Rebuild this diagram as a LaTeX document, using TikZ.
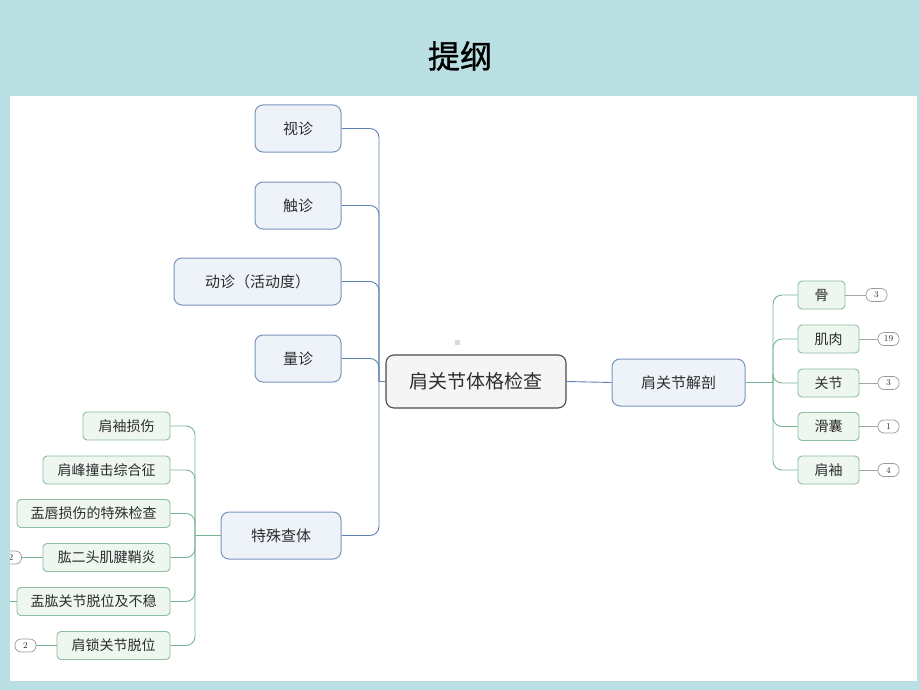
\documentclass[tikz,border=0pt]{standalone}
\usepackage{fontspec}
\newfontfamily\cjk{Noto Sans CJK SC}
\newfontfamily\cjkt[FakeBold=1.2]{Noto Sans CJK SC}
\definecolor{tealbg}{RGB}{185,223,226}
\definecolor{bfill}{RGB}{238,243,250}
\definecolor{bdraw}{RGB}{120,148,188}
\definecolor{bline}{RGB}{95,132,178}
\definecolor{gfill}{RGB}{238,246,240}
\definecolor{gdraw}{RGB}{140,190,160}
\definecolor{gline}{RGB}{120,180,145}
\definecolor{cfill}{RGB}{245,245,245}
\definecolor{cdraw}{RGB}{75,75,75}
\definecolor{txt}{RGB}{45,45,45}
\tikzset{
  bnode/.style={draw=bdraw, fill=bfill, line width=1pt, rounded corners=8pt, minimum height=47pt, inner sep=0pt, text=txt, font=\cjk\fontsize{15}{18}\selectfont},
  cnode/.style={draw=cdraw, fill=cfill, line width=1.1pt, rounded corners=8pt, minimum width=180pt, minimum height=53pt, inner sep=0pt, text=txt, font=\cjk\fontsize{19}{22}\selectfont},
  gnode/.style={draw=gdraw, fill=gfill, line width=0.9pt, rounded corners=4pt, minimum height=28pt, inner sep=0pt, text=txt, font=\cjk\fontsize{14}{17}\selectfont},
  badge/.style={draw=gray!80, fill=white, line width=0.7pt, rounded corners=6pt, minimum width=21pt, minimum height=13pt, inner sep=0pt, text=txt, font=\fontsize{9}{10}\selectfont},
  blinkk/.style={draw=bline, line width=0.9pt, rounded corners=9pt},
  glinkk/.style={draw=gline, line width=0.9pt, rounded corners=9pt},
  badgelink/.style={draw=gray!70, line width=0.7pt}
}
\begin{document}
\begin{tikzpicture}[x=1pt,y=-1pt]
\useasboundingbox (0,0) rectangle (920,690);
\fill[tealbg] (0,0) rectangle (920,690);
\fill[white] (10,96) rectangle (917,681);
\node[font=\cjkt\fontsize{32}{36}\selectfont, text=black] (title) at (460,56) {提纲};
\fill[black!15] (455,340) rectangle (460,345);

\begin{scope}
\clip (10,96) rectangle (917,681);
% central
\node[cnode] (c) at (476,381.5) {肩关节体格检查};
% left blue
\node[bnode, minimum width=86pt] (sz) at (298,128.5) {视诊};
\node[bnode, minimum width=86pt] (cz) at (298,205.5) {触诊};
\node[bnode, minimum width=167pt] (dz) at (257.5,281.5) {动诊（活动度）};
\node[bnode, minimum width=86pt] (lz) at (298,358.5) {量诊};
\node[bnode, minimum width=120pt] (ts) at (281,535.5) {特殊查体};
% right blue
\node[bnode, minimum width=133pt] (jp) at (678.5,382.5) {肩关节解剖};
% right green
\node[gnode, minimum width=47pt] (g) at (821.5,295) {骨};
\node[gnode, minimum width=61pt] (jr) at (828.5,339) {肌肉};
\node[gnode, minimum width=61pt] (gj) at (828.5,383) {关节};
\node[gnode, minimum width=61pt] (hn) at (828.5,426.5) {滑囊};
\node[gnode, minimum width=61pt] (jx) at (828.5,470) {肩袖};
\node[badge] (b1) at (876.5,295) {3};
\node[badge] (b2) at (888.5,339) {19};
\node[badge] (b3) at (888.5,383) {3};
\node[badge] (b4) at (888.5,426.5) {1};
\node[badge] (b5) at (888.5,470) {4};
% left green
\node[gnode, minimum width=87pt] (l1) at (126.5,426) {肩袖损伤};
\node[gnode, minimum width=127pt] (l2) at (106.5,470) {肩峰撞击综合征};
\node[gnode, minimum width=153pt] (l3) at (93.5,513.5) {盂唇损伤的特殊检查};
\node[gnode, minimum width=127pt] (l4) at (106.5,557.5) {肱二头肌腱鞘炎};
\node[gnode, minimum width=153pt] (l5) at (93.5,601.5) {盂肱关节脱位及不稳};
\node[gnode, minimum width=113pt] (l6) at (113.5,645.5) {肩锁关节脱位};
\node[badge] (lb4) at (11,557.5) {2};
\node[badge] (lb6) at (25.5,645.5) {2};
\coordinate (l5end) at (5,601.5);

% hub coordinates
\coordinate (hubL) at (379,381.5);
\coordinate (hubR) at (773,382.5);
\coordinate (hubG) at (195,535.5);

% blue connectors left
\foreach \n in {sz,cz,dz,lz,ts}{
  \draw[blinkk] (\n.east) -| (hubL);
}
\draw[blinkk] (hubL) -- (c.west);
\draw[blinkk] (c.east) -- (jp.west);
% right green tree
\draw[glinkk] (jp.east) -- (hubR);
\foreach \n in {g,jr,gj,hn,jx}{
  \draw[glinkk] (hubR) |- (\n.west);
}
\draw[badgelink] (g.east) -- (b1.west);
\draw[badgelink] (jr.east) -- (b2.west);
\draw[badgelink] (gj.east) -- (b3.west);
\draw[badgelink] (hn.east) -- (b4.west);
\draw[badgelink] (jx.east) -- (b5.west);
% left green tree
\draw[glinkk] (ts.west) -- (hubG);
\foreach \n in {l1,l2,l3,l4,l5,l6}{
  \draw[glinkk] (hubG) |- (\n.east);
}
\draw[glinkk] (lb4.east) -- (l4.west);
\draw[glinkk] (l5end) -- (l5.west);
\draw[glinkk] (lb6.east) -- (l6.west);
\end{scope}
\end{tikzpicture}
\end{document}
